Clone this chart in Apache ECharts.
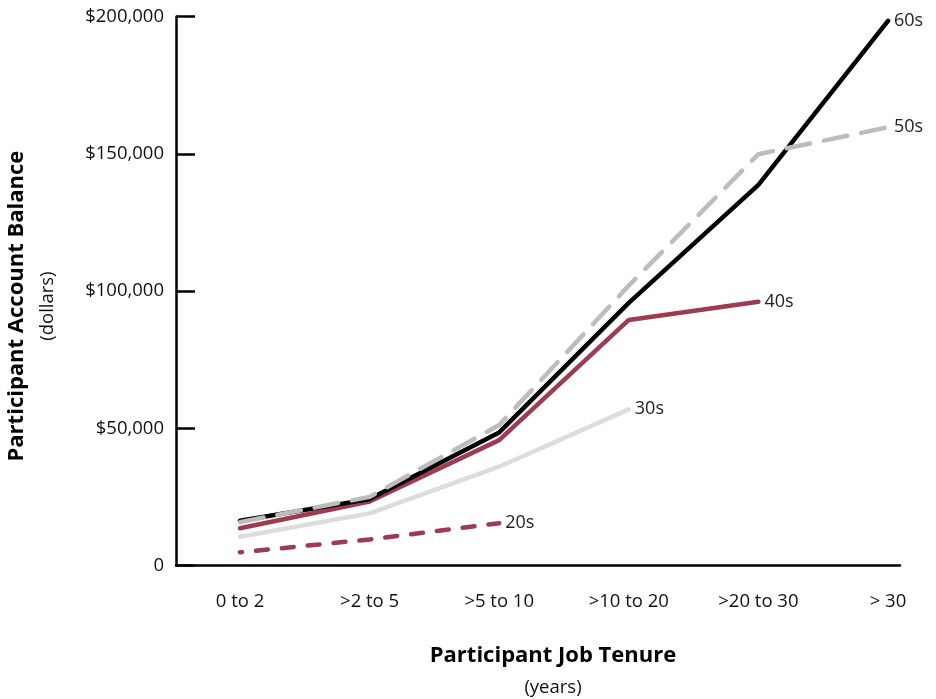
<!DOCTYPE html>
<html><head><meta charset="utf-8">
<script src="https://cdn.jsdelivr.net/npm/echarts@6/dist/echarts.min.js"></script>
<style>html,body{margin:0;padding:0;background:#fff}#c{width:936px;height:699px}</style>
</head><body><div id="c"></div>
<script>
const categories = ['0 to 2', '>2 to 5', '>5 to 10', '>10 to 20', '>20 to 30', '> 30'];
const s60 = [16300, 24200, 48500, 95700, 138700, 198500];
const s50 = [15800, 25000, 51200, 102000, 149900, 159700];
const s40 = [13600, 23300, 45700, 89500, 96100];
const s30 = [10500, 19000, 36000, 56900];
const s20 = [4800, 9500, 15400];
const yTicks = [0, 50000, 100000, 150000, 200000];

const FONT = '"Open Sans", "Noto Sans", sans-serif';
const MAROON = '#9d3b50';
const chart = echarts.init(document.getElementById('c'));

function mk(name, data, color, type, z, dashOffset) {
  return {
    name, type: 'line', data, xAxisIndex: 0, yAxisIndex: 0, z,
    symbol: 'none', silent: true,
    lineStyle: { color, width: 4.5, type, dashOffset: dashOffset || 0, cap: 'round', join: 'round' },
    endLabel: { show: true, formatter: name, color: '#222', fontFamily: FONT, fontSize: 18, distance: 6 }
  };
}

chart.setOption({
  animation: false,
  grid: [
    { left: 240, right: 48, top: 16.7, bottom: 133.5, containLabel: false, outerBoundsMode: 'none' },
    { left: 176, right: 36, top: 16.7, bottom: 133.5, containLabel: false, outerBoundsMode: 'none' }
  ],
  xAxis: [
    { type: 'category', gridIndex: 0, data: categories, boundaryGap: false,
      axisLine: { show: false }, axisTick: { show: false },
      axisLabel: { color: '#111', fontFamily: FONT, fontSize: 18.5, margin: 27 },
      splitLine: { show: false } },
    { type: 'value', gridIndex: 1, min: 0, max: 1,
      axisLine: { show: true, onZero: false, lineStyle: { color: '#000', width: 2.5 } },
      axisTick: { show: false }, axisLabel: { show: false }, splitLine: { show: false },
      name: '{a|Participant Job Tenure}\n{b|(years)}', nameLocation: 'middle', nameGap: 73,
      nameTextStyle: { padding: [0, 0, 0, 30], rich: {
        a: { fontFamily: FONT, fontSize: 22, fontWeight: 'bold', color: '#000', lineHeight: 34 },
        b: { fontFamily: FONT, fontSize: 18.5, color: '#111', lineHeight: 30 } } } }
  ],
  yAxis: [
    { type: 'value', gridIndex: 0, min: 0, max: 200000, show: false, splitLine: { show: false } },
    { type: 'value', gridIndex: 1, min: 0, max: 200000, interval: 50000,
      axisLine: { show: true, lineStyle: { color: '#000', width: 2.5 } },
      axisTick: { show: true, inside: true, length: 19, lineStyle: { color: '#000', width: 2.5 } },
      axisLabel: { color: '#111', fontFamily: FONT, fontSize: 18.5, margin: 12,
        formatter: v => yTicks.includes(v) ? (v === 0 ? '0' : '$' + v.toLocaleString('en-US')) : '' },
      splitLine: { show: false },
      name: '{a|Participant Account Balance}\n{b|(dollars)}', nameLocation: 'middle', nameGap: 113,
      nameRotate: 90,
      nameTextStyle: { padding: [0, 30, 0, 0], rich: {
        a: { fontFamily: FONT, fontSize: 22, fontWeight: 'bold', color: '#000', lineHeight: 32 },
        b: { fontFamily: FONT, fontSize: 18.5, color: '#111', lineHeight: 30 } } } }
  ],
  series: [
    mk('20s', s20, MAROON, [12, 14], 2, 10),
    mk('30s', s30, '#dcdcdc', 'solid', 3),
    mk('40s', s40, MAROON, 'solid', 4),
    mk('60s', s60, '#000000', 'solid', 5),
    mk('50s', s50, '#bdbdbd', [24, 14], 6)
  ]
});
</script></body></html>
